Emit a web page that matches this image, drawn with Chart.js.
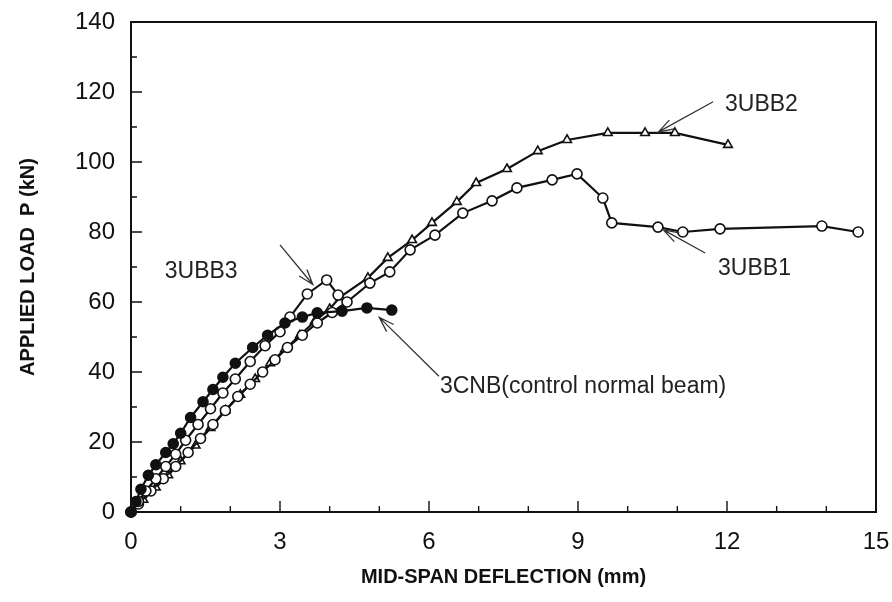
<!DOCTYPE html>
<html>
<head>
<meta charset="utf-8">
<script src="https://cdn.jsdelivr.net/npm/chart.js@4.4.0/dist/chart.umd.min.js"></script>
<style>
  html, body { margin: 0; padding: 0; background: #fff; }
  #wrap { width: 892px; height: 602px; }
</style>
</head>
<body>
<div id="wrap"><canvas id="c"></canvas></div>
<script>
(function () {
  "use strict";

  // ---- data: deflection (mm) vs applied load (kN)
  const cnbX = [0, 0.1, 0.2, 0.35, 0.5, 0.7, 0.85, 1.0, 1.2, 1.45, 1.65, 1.85, 2.1, 2.45, 2.75, 3.1, 3.45, 3.75, 4.25, 4.75, 5.25];
  const cnbY = [0, 3, 6.5, 10.5, 13.5, 17, 19.5, 22.5, 27, 31.5, 35, 38.5, 42.5, 47, 50.5, 54, 55.7, 56.9, 57.4, 58.3, 57.7];

  const ubb3X = [0, 0.15, 0.3, 0.5, 0.7, 0.9, 1.1, 1.35, 1.6, 1.85, 2.1, 2.4, 2.7, 3.0, 3.2, 3.55, 3.94, 4.17];
  const ubb3Y = [0, 3, 6, 9.5, 13, 16.5, 20.5, 25, 29.5, 34, 38, 43, 47.5, 51.5, 55.7, 62.3, 66.3, 62];

  const ubb2X = [0, 0.25, 0.5, 0.75, 1.0, 1.3, 1.6, 1.9, 2.2, 2.5, 2.8, 3.1, 3.4, 3.7, 4.0, 4.21, 4.77, 5.17, 5.66, 6.06, 6.56, 6.95, 7.57, 8.19, 8.78, 9.6, 10.35, 10.95, 12.02];
  const ubb2Y = [0, 3.5, 7, 10.5, 14.5, 19, 24, 29, 33.5, 38, 42.5, 46.5, 50.5, 54.5, 58, 61.4, 66.9, 72.6, 77.7, 82.6, 88.6, 94.0, 98.0, 103.1, 106.3, 108.3, 108.3, 108.3, 104.9];

  const ubb1X = [0, 0.15, 0.4, 0.65, 0.9, 1.15, 1.4, 1.65, 1.9, 2.15, 2.4, 2.65, 2.9, 3.15, 3.45, 3.75, 4.05, 4.35, 4.81, 5.21, 5.62, 6.12, 6.68, 7.27, 7.77, 8.48, 8.98, 9.5, 9.68, 10.61, 11.11, 11.86, 13.91, 14.64];
  const ubb1Y = [0, 2.3, 6, 9.5, 13, 17, 21, 25, 29, 33, 36.5, 40, 43.5, 47, 50.5, 54, 57, 60, 65.4, 68.6, 74.9, 79.1, 85.4, 88.9, 92.6, 94.9, 96.6, 89.7, 82.6, 81.4, 80.0, 80.9, 81.7, 80.0];

  // axis ticks
  const xTicks = [0, 3, 6, 9, 12, 15];
  const yTicks = [0, 20, 40, 60, 80, 100, 120, 140];

  // labels with arrows, in data units: text anchor, arrow tail, arrow tip
  const notes = [
    { text: "3UBB2", at: [11.96, 116.3], tail: [11.72, 117.2], tip: [10.62, 108.6] },
    { text: "3UBB1", at: [11.82, 69.4], tail: [11.56, 74.0], tip: [10.72, 80.6] },
    { text: "3UBB3", at: [0.68, 68.6], tail: [3.0, 76.3], tip: [3.66, 65.0] },
    { text: "3CNB(control normal beam)", at: [6.22, 35.7], tail: [6.2, 38.8], tip: [5.0, 55.6] },
  ];

  const INK = "#111";
  const FONT = "'Liberation Sans', Arial, sans-serif";

  function pts(xs, ys) {
    return xs.map(function (x, i) { return { x: x, y: ys[i] }; });
  }

  function series(label, xs, ys, style, fill) {
    return {
      label: label,
      data: pts(xs, ys),
      showLine: true,
      borderColor: INK,
      borderWidth: 2.2,
      pointStyle: style,
      pointRadius: 5,
      pointBorderWidth: 1.6,
      pointBorderColor: INK,
      pointBackgroundColor: fill,
      clip: 8,
    };
  }

  // fixed box sizes so the plot area sits where the reference has it
  function fitBox(size, key) {
    return function (s) {
      s[key] = size;
      s.paddingLeft = 0;
      s.paddingRight = 0;
      s.paddingTop = 0;
      s.paddingBottom = 0;
    };
  }

  // frame + inward tick marks (major and minor)
  const framePlugin = {
    id: "frame",
    afterDraw: function (chart) {
      const ctx = chart.ctx;
      const a = chart.chartArea;
      const sx = chart.scales.x, sy = chart.scales.y;
      ctx.save();
      ctx.strokeStyle = INK;
      ctx.lineWidth = 2;
      ctx.strokeRect(a.left, a.top, a.right - a.left, a.bottom - a.top);
      ctx.lineWidth = 1.4;
      ctx.beginPath();
      for (let v = 1; v < 15; v++) {
        const px = sx.getPixelForValue(v);
        const len = v % 3 === 0 ? 11 : 6;
        ctx.moveTo(px, a.bottom);
        ctx.lineTo(px, a.bottom - len);
      }
      for (let v = 10; v < 140; v += 10) {
        const py = sy.getPixelForValue(v);
        const len = v % 20 === 0 ? 11 : 6;
        ctx.moveTo(a.left, py);
        ctx.lineTo(a.left + len, py);
      }
      ctx.stroke();
      ctx.restore();
    },
  };

  // callout texts with open arrowheads
  const notePlugin = {
    id: "notes",
    afterDatasetsDraw: function (chart) {
      const ctx = chart.ctx;
      const sx = chart.scales.x, sy = chart.scales.y;
      ctx.save();
      ctx.strokeStyle = "#333";
      ctx.fillStyle = "#222";
      ctx.lineWidth = 1.3;
      ctx.font = "23px " + FONT;
      ctx.textAlign = "left";
      ctx.textBaseline = "middle";
      notes.forEach(function (n) {
        const tx = sx.getPixelForValue(n.tail[0]), ty = sy.getPixelForValue(n.tail[1]);
        const hx = sx.getPixelForValue(n.tip[0]), hy = sy.getPixelForValue(n.tip[1]);
        const ang = Math.atan2(hy - ty, hx - tx);
        const L = 16, w = 0.32;
        ctx.beginPath();
        ctx.moveTo(tx, ty);
        ctx.lineTo(hx, hy);
        ctx.moveTo(hx - L * Math.cos(ang - w), hy - L * Math.sin(ang - w));
        ctx.lineTo(hx, hy);
        ctx.lineTo(hx - L * Math.cos(ang + w), hy - L * Math.sin(ang + w));
        ctx.stroke();
        ctx.fillText(n.text, sx.getPixelForValue(n.at[0]), sy.getPixelForValue(n.at[1]));
      });
      ctx.restore();
    },
  };

  const tickFont = { family: FONT, size: 24 };
  const titleFont = { family: FONT, size: 20, weight: "bold" };

  new Chart(document.getElementById("c"), {
    type: "scatter",
    data: {
      datasets: [
        series("3CNB", cnbX, cnbY, "circle", INK),
        series("3UBB3", ubb3X, ubb3Y, "circle", "#fff"),
        series("3UBB1", ubb1X, ubb1Y, "circle", "#fff"),
        series("3UBB2", ubb2X, ubb2Y, "triangle", "#fff"),
      ],
    },
    options: {
      responsive: true,
      maintainAspectRatio: false,
      animation: false,
      events: [],
      layout: { padding: { left: 0, right: 16, top: 22, bottom: 0 } },
      plugins: { legend: { display: false }, tooltip: { enabled: false } },
      scales: {
        x: {
          type: "linear",
          min: 0,
          max: 15,
          afterBuildTicks: function (s) { s.ticks = xTicks.map(function (v) { return { value: v }; }); },
          afterFit: fitBox(90, "height"),
          grid: { display: false, drawTicks: false },
          border: { display: false },
          ticks: { color: INK, font: tickFont, padding: 16, maxRotation: 0 },
          title: { display: true, text: "MID-SPAN DEFLECTION (mm)", color: INK, font: titleFont, padding: { top: 4, bottom: 13 } },
        },
        y: {
          type: "linear",
          min: 0,
          max: 140,
          afterBuildTicks: function (s) { s.ticks = yTicks.map(function (v) { return { value: v }; }); },
          afterFit: fitBox(131, "width"),
          grid: { display: false, drawTicks: false },
          border: { display: false },
          ticks: { color: INK, font: tickFont, padding: 16 },
          title: { display: true, text: "APPLIED LOAD  P (kN)", color: INK, font: titleFont, padding: { top: 16, bottom: 4 } },
        },
      },
    },
    plugins: [framePlugin, notePlugin],
  });
})();
</script>
</body>
</html>
